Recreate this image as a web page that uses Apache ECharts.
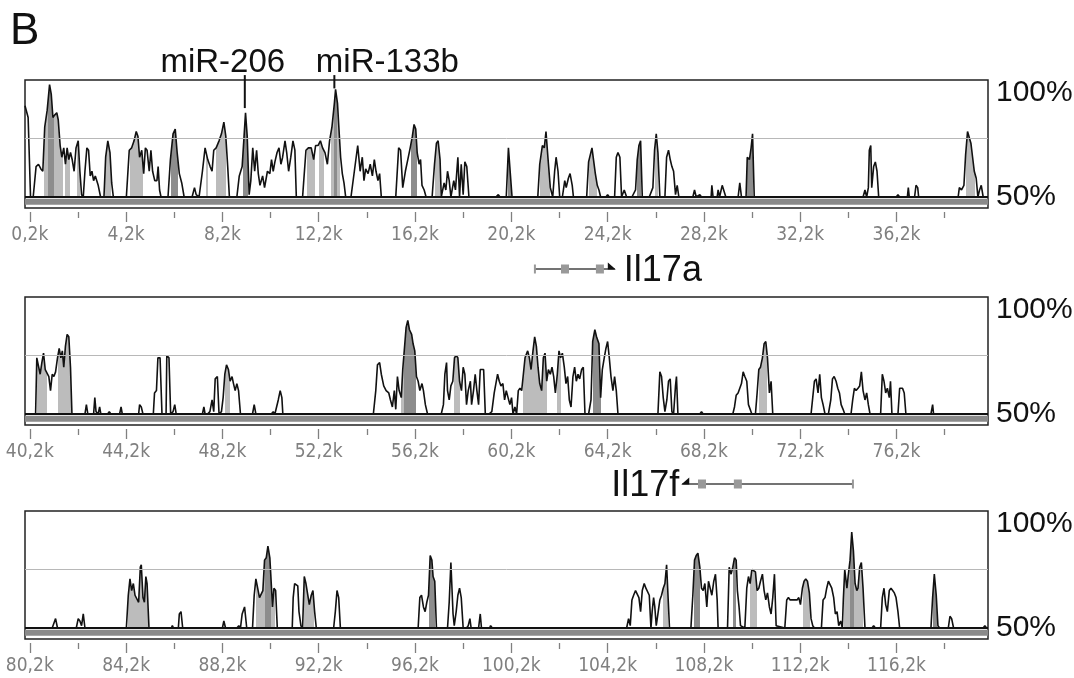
<!DOCTYPE html>
<html><head><meta charset="utf-8">
<script src="https://cdn.jsdelivr.net/npm/echarts@6/dist/echarts.min.js"></script>
<style>html,body{margin:0;padding:0;background:#fff}#c{width:1074px;height:678px}</style>
</head><body><div id="c"></div>
<script>
// ---------- DATA (positions in kb, conservation in %) ----------
const panel1 = [[0,89],[0.13,84],[0.23,50],[0.34,50],[0.46,63],[0.56,64],[0.66,62],[0.74,61],[0.82,80],[0.92,87],[1.02,98],[1.09,94],[1.16,84],[1.23,85],[1.32,86],[1.38,83],[1.46,72],[1.53,67],[1.61,71],[1.68,64],[1.75,71],[1.82,66],[1.89,69],[1.96,66],[2.04,61],[2.12,71],[2.21,74],[2.28,61],[2.35,51],[2.42,50],[2.49,61],[2.57,71],[2.64,70],[2.71,59],[2.78,61],[2.85,57],[2.92,59],[3.04,55],[3.14,50],
[3.28,50],[3.35,67],[3.44,74],[3.53,69],[3.60,56],[3.67,50],
[4.21,50],[4.33,70],[4.43,71],[4.53,74],[4.62,78],[4.69,76],[4.76,67],[4.85,70],[4.93,60],[5.00,71],[5.07,70],[5.16,61],[5.23,70],[5.30,61],[5.39,57],[5.48,57],[5.53,63],[5.59,53],[5.65,50],
[5.94,50],[6.04,66],[6.15,77],[6.24,79],[6.32,69],[6.41,60],[6.51,56],[6.61,50],
[6.94,50],[7.04,54],[7.11,51],[7.23,50],[7.37,61],[7.48,71],[7.59,66],[7.69,63],[7.77,61],[7.84,70],[7.94,71],[8.06,74],[8.16,77],[8.26,82],[8.34,76],[8.42,63],[8.49,50],
[8.80,50],[8.90,59],[9.02,63],[9.10,76],[9.16,86],[9.23,76],[9.31,51],[9.38,57],[9.46,71],[9.54,61],[9.62,70],[9.69,60],[9.76,55],[9.87,59],[9.95,54],[10.07,61],[10.17,60],[10.24,66],[10.31,61],[10.38,65],[10.47,69],[10.55,71],[10.63,64],[10.70,67],[10.80,74],[10.87,69],[10.95,61],[11.04,67],[11.13,74],[11.21,70],[11.27,50],
[11.53,50],[11.67,70],[11.77,71],[11.89,71],[11.99,66],[12.07,72],[12.17,72],[12.27,74],[12.36,71],[12.46,69],[12.56,64],[12.65,74],[12.75,80],[12.85,90],[12.90,96],[12.98,90],[13.03,81],[13.11,67],[13.18,60],[13.25,56],[13.32,50],
[13.54,50],[13.68,61],[13.82,72],[13.92,61],[14.01,67],[14.08,57],[14.15,62],[14.25,60],[14.34,64],[14.43,59],[14.51,66],[14.58,61],[14.66,57],[14.73,60],[14.80,50],
[15.40,50],[15.52,71],[15.60,70],[15.69,54],[15.80,61],[15.90,66],[16.00,71],[16.09,76],[16.16,81],[16.23,79],[16.29,69],[16.37,64],[16.43,66],[16.49,55],[16.58,53],[16.66,50],
[16.91,50],[17.01,64],[17.09,73],[17.16,74],[17.24,66],[17.29,50],[17.41,56],[17.48,53],[17.55,61],[17.62,57],[17.69,50],[17.81,57],[17.88,53],[17.98,67],[18.05,50],[18.12,64],[18.20,51],[18.27,65],[18.35,63],[18.44,50],
[19.56,50],[19.66,51],[19.73,50],
[19.99,50],[20.08,71],[20.16,71],[20.23,50],
[21.30,50],[21.38,64],[21.49,72],[21.57,71],[21.64,78],[21.72,67],[21.82,54],[21.92,50],[22.00,61],[22.06,67],[22.14,61],[22.21,50],
[22.32,50],[22.42,57],[22.48,54],[22.57,58],[22.64,60],[22.73,55],[22.78,50],
[23.33,50],[23.41,65],[23.48,68],[23.55,71],[23.62,71],[23.69,60],[23.77,55],[23.84,53],[23.91,50],
[24.13,50],[24.20,51],[24.27,50],[24.49,50],[24.56,67],[24.63,69],[24.71,67],[24.78,50],[24.89,53],[24.99,50],
[25.21,50],[25.36,53],[25.43,66],[25.50,72],[25.57,74],[25.64,50],
[25.93,50],[26.08,54],[26.15,70],[26.22,77],[26.29,69],[26.37,50],
[26.58,50],[26.65,67],[26.73,70],[26.80,66],[26.87,63],[26.94,61],[27.02,51],[27.09,55],[27.16,50],
[27.74,50],[27.81,53],[27.88,50],[28.03,51],[28.10,50],[28.50,50],[28.53,55],[28.58,50],[28.75,50],[28.79,53],[28.85,50],[28.96,55],[29.04,55],[29.11,50],
[29.62,50],[29.69,56],[29.76,50],[29.95,50],[30.00,67],[30.09,66],[30.16,71],[30.22,77],[30.29,50],
[34.81,50],[34.89,53],[34.96,50],[35.03,54],[35.07,70],[35.13,72],[35.17,54],[35.25,63],[35.32,65],[35.39,61],[35.46,50],
[36.19,50],[36.26,51],[36.33,50],[36.65,50],[36.69,54],[36.73,50],[36.95,50],[37.01,55],[37.08,54],[37.12,50],
[38.76,50],[38.81,54],[38.90,53],[39.00,55],[39.07,68],[39.15,78],[39.22,78],[39.29,73],[39.36,67],[39.43,61],[39.51,58],[39.58,50],[39.65,53],[39.72,55],[39.80,50],[40,50]];

const panel2 = [[40,50],[40.34,50],[40.44,50],[40.49,74],[40.56,74],[40.63,67],[40.70,72],[40.77,76],[40.84,69],[40.92,69],[40.99,66],[41.06,60],[41.13,67],[41.20,66],[41.27,68],[41.35,74],[41.42,78],[41.49,74],[41.55,77],[41.61,70],[41.68,79],[41.75,84],[41.82,83],[41.89,70],[41.95,50],
[42.49,50],[42.55,54],[42.61,50],[42.85,50],[42.90,57],[42.95,51],[43.04,50],[43.10,53],[43.15,50],[43.43,50],[43.50,51],[43.57,50],[43.93,50],[43.99,53],[44.04,50],
[44.72,50],[44.76,54],[44.83,53],[44.90,50],[45.33,50],[45.38,59],[45.46,60],[45.52,74],[45.61,74],[45.69,50],[45.86,50],[45.89,75],[45.98,74],[46.05,50],[46.15,51],[46.22,54],[46.28,50],
[47.37,50],[47.43,53],[47.48,50],[47.58,50],[47.68,51],[47.77,56],[47.84,51],[47.90,65],[47.99,66],[48.06,50],[48.16,51],[48.23,57],[48.30,67],[48.37,71],[48.45,69],[48.52,64],[48.60,66],[48.66,63],[48.73,60],[48.80,63],[48.87,60],[48.95,50],
[49.45,50],[49.52,54],[49.59,50],[50.23,50],[50.31,51],[50.38,50],[50.52,56],[50.60,60],[50.67,57],[50.71,50],
[54.47,50],[54.57,60],[54.64,71],[54.73,72],[54.80,67],[54.90,62],[55.00,60],[55.11,59],[55.18,56],[55.26,53],[55.34,60],[55.40,52],[55.47,66],[55.54,60],[55.63,57],[55.69,69],[55.76,78],[55.83,87],[55.90,90],[55.97,86],[56.06,84],[56.12,80],[56.19,77],[56.26,66],[56.33,64],[56.40,60],[56.49,63],[56.55,60],[56.63,54],[56.72,50],
[57.29,50],[57.38,54],[57.44,67],[57.51,72],[57.55,60],[57.62,56],[57.69,62],[57.77,64],[57.84,74],[57.91,75],[57.98,74],[58.05,64],[58.13,60],[58.20,70],[58.27,67],[58.34,54],[58.41,60],[58.50,64],[58.55,54],[58.63,60],[58.70,67],[58.77,60],[58.84,54],[58.91,69],[58.98,69],[59.05,69],[59.12,50],
[59.27,50],[59.39,51],[59.49,59],[59.56,59],[59.63,67],[59.70,64],[59.77,62],[59.85,63],[59.92,56],[59.99,60],[60.06,60],[60.14,54],[60.21,57],[60.27,50],[60.35,53],[60.42,50],[60.49,60],[60.56,61],[60.63,60],[60.70,67],[60.77,74],
[60.88,77],[60.95,74],[61.02,69],[61.10,77],[61.17,83],[61.24,79],[61.31,70],[61.38,63],[61.46,60],[61.53,74],[61.60,76],[61.67,64],[61.74,69],[61.82,67],[61.89,70],[61.96,66],[62.03,59],[62.11,67],[62.18,77],[62.25,74],[62.32,76],[62.40,70],[62.47,63],[62.54,66],[62.61,56],[62.68,53],[62.76,66],[62.83,70],[62.90,64],[62.97,67],[63.04,65],[63.12,69],[63.19,70],[63.26,50],
[63.41,50],[63.51,56],[63.58,81],[63.67,86],[63.74,83],[63.84,80],[63.91,57],[63.98,69],[64.06,74],[64.13,78],[64.20,81],[64.27,74],[64.34,66],[64.42,60],[64.49,66],[64.56,60],[64.63,50],
[66.29,50],[66.37,68],[66.44,66],[66.51,57],[66.58,51],[66.66,56],[66.73,64],[66.80,65],[66.87,51],[66.94,50],[67.02,62],[67.06,66],[67.12,50],
[68.03,50],[68.10,51],[68.17,50],
[69.40,50],[69.47,53],[69.54,58],[69.62,59],[69.69,61],[69.76,63],[69.83,68],[69.90,66],[69.98,64],[70.05,54],[70.12,52],[70.19,50],[70.34,50],[70.41,59],[70.48,69],[70.55,70],[70.63,74],[70.70,80],[70.77,81],[70.84,74],[70.92,59],[70.99,64],[71.06,50],
[72.65,50],[72.72,57],[72.79,64],[72.86,65],[72.94,59],[73.01,67],[73.08,57],[73.15,54],[73.23,50],[73.37,50],[73.47,56],[73.54,65],[73.61,66],[73.69,64],[73.76,61],[73.83,59],[73.90,54],[73.98,52],[74.05,50],
[74.31,50],[74.38,56],[74.45,61],[74.52,60],[74.60,61],[74.67,62],[74.74,68],[74.81,60],[74.89,56],[74.96,59],[75.03,54],[75.10,50],
[75.54,50],[75.61,67],[75.68,64],[75.75,59],[75.82,61],[75.90,57],[75.95,64],[76.01,50],[76.26,50],[76.33,61],[76.45,61],[76.52,59],[76.59,50],
[77.63,50],[77.70,54],[77.74,50],[80,50]];

const panel3 = [[80,50],[81.13,50],[81.20,52],[81.27,54],[81.35,50],[82.13,50],[82.21,54],[82.28,53],[82.35,51],[82.42,56],[82.49,50],
[84.21,50],[84.29,64],[84.36,71],[84.43,66],[84.50,69],[84.57,64],[84.64,64],[84.72,61],[84.79,76],[84.83,77],[84.90,63],[84.96,61],[85.02,72],[85.07,69],[85.15,50],
[86.08,50],[86.12,51],[86.17,50],[86.37,50],[86.41,56],[86.48,57],[86.55,50],
[88.20,50],[88.26,53],[88.33,50],[88.80,50],[88.88,51],[88.95,50],[89.02,56],[89.12,59],[89.21,50],[89.45,50],[89.52,64],[89.59,71],[89.66,71],[89.74,63],[89.81,63],[89.88,66],[89.95,79],[90.02,80],[90.09,85],[90.17,80],[90.24,67],[90.28,59],[90.34,67],[90.41,66],[90.48,50],
[91.10,50],[91.14,63],[91.20,69],[91.27,69],[91.33,68],[91.38,57],[91.46,51],[91.53,50],[91.60,72],[91.67,69],[91.74,69],[91.81,60],[91.89,64],[91.96,66],[92.03,57],[92.10,50],
[92.82,50],[92.89,57],[92.96,66],[93.03,63],[93.10,50],
[96.33,50],[96.40,63],[96.47,64],[96.55,59],[96.62,57],[96.69,61],[96.76,64],[96.83,81],[96.90,79],[96.95,72],[97.02,70],[97.09,50],[97.55,50],[97.62,61],[97.69,78],[97.74,78],[97.78,56],[97.83,51],[97.91,57],[97.98,64],[98.05,67],[98.12,63],[98.20,50],[98.34,50],[98.41,51],[98.48,54],[98.53,50],[98.84,50],[98.91,56],[98.96,50],[99.30,50],[99.34,51],[99.41,50],
[104.99,50],[105.07,54],[105.14,51],[105.21,62],[105.28,64],[105.36,66],[105.43,66],[105.50,63],[105.57,57],[105.64,66],[105.72,69],[105.79,67],[105.86,67],[105.93,64],[106.00,50],[106.05,57],[106.11,63],[106.16,59],[106.22,51],[106.29,56],[106.37,62],[106.44,64],[106.51,67],[106.58,69],[106.65,77],[106.71,77],[106.77,50],
[107.66,50],[107.74,64],[107.81,79],[107.88,81],[107.95,82],[108.03,76],[108.10,67],[108.17,66],[108.24,69],[108.32,59],[108.39,70],[108.46,67],[108.53,64],[108.61,70],[108.68,73],[108.75,62],[108.79,50],
[109.18,50],[109.25,76],[109.33,73],[109.40,76],[109.47,80],[109.54,79],[109.59,66],[109.66,59],[109.72,51],[109.90,50],[109.98,67],[110.05,72],[110.12,69],[110.19,75],[110.27,75],[110.34,74],[110.41,66],[110.48,67],[110.55,70],[110.63,73],[110.70,66],[110.77,62],[110.84,65],[110.92,59],[110.99,56],[111.06,63],[111.13,73],[111.20,51],
[111.56,50],[111.64,62],[111.71,63],[111.78,62],[111.85,62],[111.93,62],[112.00,62],[112.07,62],[112.14,63],[112.21,60],[112.29,67],[112.36,70],[112.43,71],[112.50,70],[112.58,65],[112.65,54],[112.72,51],[112.79,50],
[113.08,50],[113.15,62],[113.23,63],[113.30,67],[113.37,70],[113.44,70],[113.51,67],[113.59,63],[113.66,56],[113.73,57],[113.80,51],[113.88,53],[113.95,50],[113.99,62],[114.05,75],[114.14,67],[114.19,72],[114.27,79],[114.34,91],[114.41,83],[114.48,69],[114.55,66],[114.60,67],[114.67,76],[114.74,78],[114.81,67],[114.89,50],
[115.18,50],[115.25,51],[115.32,50],[115.54,50],[115.61,63],[115.68,67],[115.75,60],[115.82,57],[115.90,66],[115.97,67],[116.04,66],[116.11,65],[116.18,63],[116.26,57],[116.33,50],
[117.63,50],[117.70,63],[117.77,73],[117.85,64],[117.92,51],[117.99,50],[118.35,50],[118.42,55],[118.49,54],[118.57,50],[119.80,50],[119.87,51],[119.94,50],[120,50]];

// shaded (conserved) intervals: [start kb, end kb, 'L' light / 'D' dark]
const shade1 = [[0.77,0.95,'L'],[0.95,1.2,'D'],[1.2,1.56,'L'],[1.68,1.85,'L'],[2.15,2.3,'L'],[3.33,3.58,'L'],[4.35,4.9,'L'],[6.05,6.35,'D'],[7.5,7.62,'L'],[7.95,8.35,'L'],[9.05,9.25,'D'],[11.7,12.05,'L'],[12.2,12.4,'L'],[12.7,12.82,'L'],[12.82,12.98,'D'],[12.98,13.1,'L'],[16.05,16.3,'D'],[17.05,17.25,'L'],[20.08,20.17,'D'],[21.38,21.82,'L'],[23.41,23.77,'L'],[25.43,25.6,'D'],[26.15,26.3,'L'],[30.0,30.25,'D'],[39.07,39.45,'L']];
const shade2 = [[40.49,40.9,'L'],[41.35,41.9,'L'],[48.3,48.5,'L'],[55.6,55.75,'L'],[55.75,56.25,'D'],[57.84,58.05,'L'],[60.7,61.67,'L'],[62.11,62.25,'L'],[63.58,63.91,'D'],[70.48,70.84,'L']];
const shade3 = [[84.29,85.1,'L'],[89.6,89.95,'L'],[89.95,90.2,'D'],[90.2,90.4,'L'],[91.6,92.0,'L'],[96.8,97.05,'D'],[106.5,106.72,'L'],[107.8,108.05,'D'],[109.4,109.55,'D'],[110.1,110.4,'L'],[112.3,112.6,'L'],[114.0,114.25,'L'],[114.25,114.45,'D'],[114.45,114.8,'L'],[117.7,117.9,'D']];

const ranges = [[0,40],[40,80],[80,120]];
const labelTicks = [[0.2,4.2,8.2,12.2,16.2,20.2,24.2,28.2,32.2,36.2],[40.2,44.2,48.2,52.2,56.2,60.2,64.2,68.2,72.2,76.2],[80.2,84.2,88.2,92.2,96.2,100.2,104.2,108.2,112.2,116.2]];
const minorTicks = [[2.2,6.2,10.2,14.2,18.2,22.2,26.2,30.2,34.2,38.2],[42.2,46.2,50.2,54.2,58.2,62.2,66.2,70.2,74.2,78.2],[82.2,86.2,90.2,94.2,98.2,102.2,106.2,110.2,114.2,118.2]];
const yLabels = ['100%','50%'];
const mirs = [{name:'miR-206', pos:9.13, top:102.1, bottom:88}, {name:'miR-133b', pos:12.85, top:102.1, bottom:96.4}];
const genes = [
  {name:'Il17a', panel:0, start:21.18, end:24.5, exons:[22.43,23.88]},
  {name:'Il17f', panel:1, start:74.39, end:67.3, exons:[68.12,69.61]}
];

// ---------- LAYOUT ----------
const L = 25, W = 963, H = 128, tops = [80,297,511], geneTops = [261,476];
const Y_MIN = 45.3, Y_MAX = 100;
const LIGHT = '#bcbcbc', DARK = '#8d8d8d';
const sansN = "'Liberation Sans Narrow','Arial Narrow','DejaVu Sans Condensed',sans-serif";
const sans = "'Liberation Sans',Arial,sans-serif";
const fmt = v => v.toFixed(1).replace('.', ',') + 'k';

const grid = [], xAxis = [], yAxis = [], series = [], visualMap = [];
const panels = [panel1, panel2, panel3];
const shades = [shade1, shade2, shade3];

panels.forEach((data, i) => {
  grid.push({left: L, width: W, top: tops[i], height: H, show: true, borderColor: '#222', borderWidth: 1.5, backgroundColor: '#fff'});
  xAxis.push({type: 'value', gridIndex: i, min: ranges[i][0], max: ranges[i][1], position: 'bottom', offset: 4,
    axisLine: {show: false}, splitLine: {show: false},
    axisTick: {show: true, customValues: labelTicks[i], length: 10, lineStyle: {color: '#808080', width: 1.3}},
    axisLabel: {show: true, customValues: labelTicks[i], formatter: fmt, color: '#808080', fontSize: 19, fontFamily: sansN, margin: 14}});
  xAxis.push({type: 'value', gridIndex: i, min: ranges[i][0], max: ranges[i][1], position: 'bottom', offset: 4,
    axisLine: {show: false}, splitLine: {show: false}, axisLabel: {show: false},
    axisTick: {show: true, customValues: minorTicks[i], length: 6, lineStyle: {color: '#808080', width: 1.3}}});
  yAxis.push({type: 'value', gridIndex: i, min: Y_MIN, max: Y_MAX, show: false, splitLine: {show: false}});
  // fill series
  series.push({type: 'line', xAxisIndex: 2 * i, yAxisIndex: i, data: data, showSymbol: false, symbol: 'none',
    lineStyle: {width: 0, opacity: 0}, areaStyle: {origin: 50, opacity: 1}, silent: true, animation: false, z: 2});
  // outline series
  series.push({type: 'line', xAxisIndex: 2 * i, yAxisIndex: i, data: data, showSymbol: false, symbol: 'none',
    lineStyle: {width: 1.6, color: '#111'}, silent: true, animation: false, z: 4,
    markLine: {silent: true, symbol: 'none', animation: false, label: {show: false},
      data: [{yAxis: 75, lineStyle: {color: '#b8b8b8', width: 1, type: 'solid'}},
             {yAxis: 50, lineStyle: {color: '#111', width: 2, type: 'solid'}}]},
    markArea: {silent: true, itemStyle: {color: '#8a8a8a'}, data: [[{yAxis: 46.7}, {yAxis: 49.2}]]}});
  const pieces = shades[i].map(s => ({gte: s[0], lt: s[1], color: s[2] === 'D' ? DARK : LIGHT}));
  visualMap.push({type: 'piecewise', show: false, dimension: 0, seriesIndex: 2 * i, pieces: pieces,
    outOfRange: {color: 'rgba(255,255,255,0)'}});
});

// gene tracks
genes.forEach((g, k) => {
  const gi = 3 + k, xi = 6 + k, yi = 3 + k;
  grid.push({left: L, width: W, top: geneTops[k], height: 16, show: false});
  xAxis.push({type: 'value', gridIndex: gi, min: ranges[g.panel][0], max: ranges[g.panel][1], show: false});
  yAxis.push({type: 'value', gridIndex: gi, min: -1, max: 1, show: false});
  const right = g.end > g.start;
  series.push({type: 'line', xAxisIndex: xi, yAxisIndex: yi, data: [[g.start, 0], [g.end, 0]], symbol: 'none',
    lineStyle: {color: '#444', width: 1.5}, silent: true, animation: false, z: 3});
  series.push({type: 'scatter', xAxisIndex: xi, yAxisIndex: yi, data: g.exons.map(e => [e, 0]), symbol: 'rect',
    symbolSize: [8, 9], itemStyle: {color: '#999', opacity: 1}, silent: true, animation: false, z: 4});
  series.push({type: 'scatter', xAxisIndex: xi, yAxisIndex: yi, data: [[g.start, 0]], symbol: 'rect',
    symbolSize: [2, 9], itemStyle: {color: '#999', opacity: 1}, silent: true, animation: false, z: 4});
  series.push({type: 'scatter', xAxisIndex: xi, yAxisIndex: yi, data: [[g.end, 0]],
    symbol: right ? 'path://M0,0 L10,8 L0,8 Z' : 'path://M10,0 L0,8 L10,8 Z',
    symbolSize: [8, 7], symbolOffset: [right ? -3 : 3, -3], symbolKeepAspect: false,
    itemStyle: {color: '#111', opacity: 1}, silent: true, animation: false, z: 5,
    label: {show: true, position: right ? 'right' : 'left', distance: right ? 8 : 2, formatter: g.name,
      fontSize: 36, fontFamily: sans, color: '#111', opacity: 1, offset: [0, 5]}});
});

const graphic = [
  {type: 'text', left: 10, top: 10, style: {text: 'B', fontSize: 44, fontFamily: sans, fill: '#111'}}
];
tops.forEach(t => {
  graphic.push({type: 'text', left: 996, top: t - 2, style: {text: yLabels[0], fontSize: 30, fontFamily: sans, fill: '#111'}});
  graphic.push({type: 'text', left: 996, top: t + 117 - 15, style: {text: yLabels[1], fontSize: 30, fontFamily: sans, fill: '#111'}});
});

const chart = echarts.init(document.getElementById('c'), null, {renderer: 'canvas'});
chart.setOption({backgroundColor: '#fff', animation: false, grid, xAxis, yAxis, series, visualMap, graphic});

// miRNA markers placed through the panel-1 scales
const labelDx = [-22, 53];
mirs.forEach((m, k) => {
  const p1 = chart.convertToPixel({xAxisIndex: 0, yAxisIndex: 0}, [m.pos, m.top]);
  const p2 = chart.convertToPixel({xAxisIndex: 0, yAxisIndex: 0}, [m.pos, m.bottom]);
  graphic.push({type: 'line', shape: {x1: p1[0], y1: p1[1], x2: p2[0], y2: p2[1]}, style: {stroke: '#111', lineWidth: 2}, z: 10});
  graphic.push({type: 'text', x: p1[0] + labelDx[k], y: p1[1] + 4, style: {text: m.name, fontSize: 33, fontFamily: sans, fill: '#111', align: 'center', verticalAlign: 'bottom'}, z: 10});
});
chart.setOption({graphic});
</script></body></html>
